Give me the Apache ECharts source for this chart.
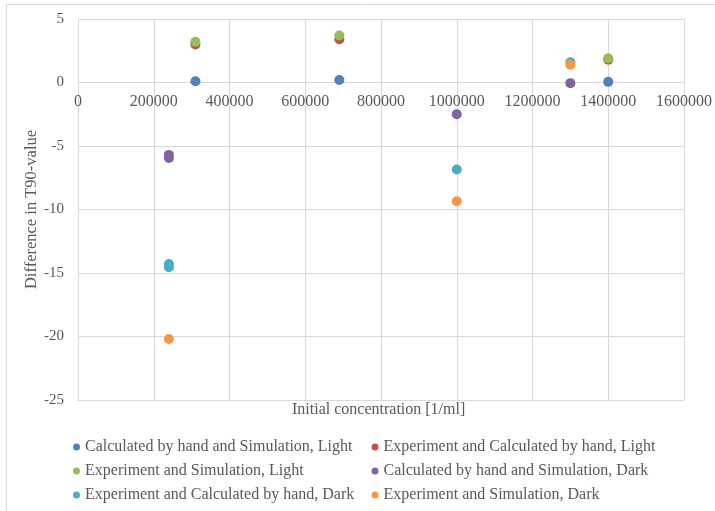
<!DOCTYPE html>
<html><head><meta charset="utf-8">
<script src="https://cdn.jsdelivr.net/npm/echarts@6/dist/echarts.min.js"></script>
<style>html,body{margin:0;padding:0;background:#fff}#c{width:715px;height:511px}</style>
</head><body><div id="c"></div>
<script>
const seriesNames = [
  "Calculated by hand and Simulation, Light",
  "Experiment and Calculated by hand, Light",
  "Experiment and Simulation, Light",
  "Calculated by hand and Simulation, Dark",
  "Experiment and Calculated by hand, Dark",
  "Experiment and Simulation, Dark"
];
const calcSimLight = [[310000, 0.1], [690000, 0.2], [1400000, 0.05]];
const expCalcLight = [[310000, 3.0], [690000, 3.4], [1400000, 1.8]];
const expSimLight  = [[310000, 3.2], [690000, 3.7], [1400000, 1.9]];
const calcSimDark  = [[240000, -5.7], [240000, -5.95], [1000000, -2.5], [1300000, -0.05]];
const expCalcDark  = [[240000, -14.3], [240000, -14.55], [1000000, -6.85], [1300000, 1.6]];
const expSimDark   = [[240000, -20.2], [1000000, -9.35], [1300000, 1.4]];
const seriesData = [calcSimLight, expCalcLight, expSimLight, calcSimDark, expCalcDark, expSimDark];
const colors = ["#4F81BD", "#C0504D", "#9BBB59", "#8064A2", "#4BACC6", "#F79646"];
const xTicks = {min: 0, max: 1600000, interval: 200000};
const yTicks = {min: -25, max: 5, interval: 5};

const font = "Liberation Serif";
const txt = "#595959";
const gridTop = 19, gridBottom = 111, H = 511;
const gridH = H - gridTop - gridBottom;
// place the x axis on y = 0
const zeroOffset = -gridH * (0 - yTicks.min) / (yTicks.max - yTicks.min);

const chart = echarts.init(document.getElementById('c'));
const legendText = {fontFamily: font, fontSize: 16, color: txt, lineHeight: 16};
const legendCommon = {orient: 'vertical', top: 439, padding: 0, itemGap: 8, itemWidth: 7, itemHeight: 7,
  icon: 'circle', textStyle: legendText, height: 72};
chart.setOption({
  animation: false,
  color: colors,
  grid: {left: 78, right: 31, top: gridTop, bottom: gridBottom},
  graphic: [
    {type: 'rect', shape: {x: 6.5, y: 4.5, width: 720, height: 520}, style: {fill: 'none', stroke: '#d9d9d9', lineWidth: 1}},
    {type: 'text', left: 292, top: 402, style: {text: 'Initial concentration [1/ml]', font: '16px "Liberation Serif"', fill: txt}}
  ],
  xAxis: {
    type: 'value', min: xTicks.min, max: xTicks.max, interval: xTicks.interval,
    position: 'bottom', offset: zeroOffset,
    axisLine: {show: true, onZero: false, lineStyle: {color: '#d9d9d9'}},
    axisTick: {show: false},
    axisLabel: {fontFamily: font, fontSize: 16, color: txt, margin: 11, formatter: v => String(v)},
    splitLine: {lineStyle: {color: '#d9d9d9'}}
  },
  yAxis: {
    type: 'value', min: yTicks.min, max: yTicks.max, interval: yTicks.interval,
    name: 'Difference in T90-value', nameLocation: 'middle', nameGap: 38, nameMoveOverlap: false,
    nameTextStyle: {fontFamily: font, fontSize: 16.5, color: txt},
    axisLine: {show: true, onZero: false, lineStyle: {color: '#d9d9d9'}},
    axisTick: {show: false},
    axisLabel: {fontFamily: font, fontSize: 15, color: txt, margin: 14},
    splitLine: {lineStyle: {color: '#d9d9d9'}}
  },
  legend: [
    Object.assign({left: 73, data: [seriesNames[0], seriesNames[2], seriesNames[4]]}, legendCommon),
    Object.assign({left: 371.5, data: [seriesNames[1], seriesNames[3], seriesNames[5]]}, legendCommon)
  ],
  series: seriesNames.map((n, i) => ({
    name: n, type: 'scatter', symbolSize: 10, data: seriesData[i], itemStyle: {color: colors[i], opacity: 1}
  }))
});
</script></body></html>
